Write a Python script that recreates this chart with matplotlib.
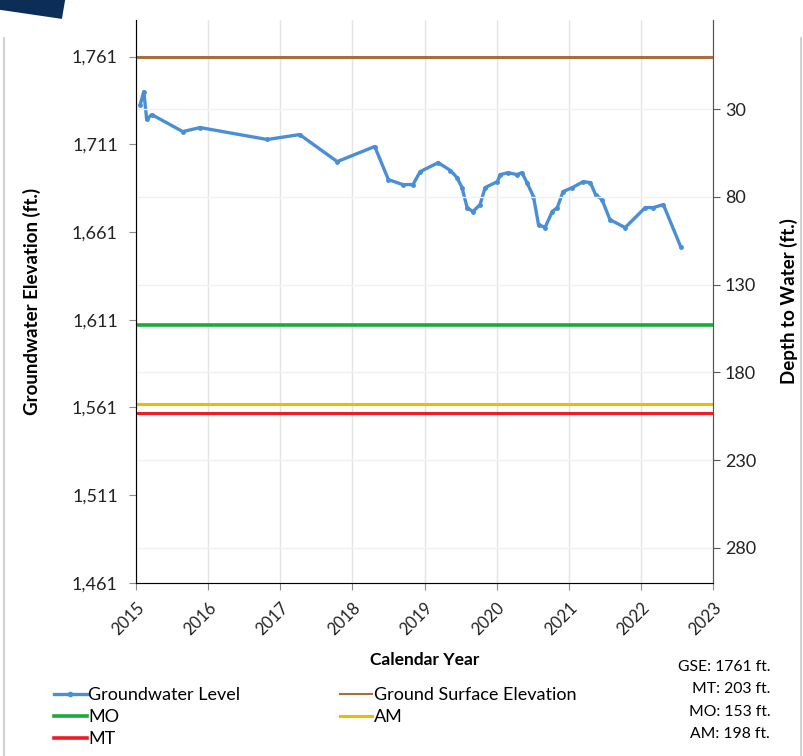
import matplotlib.pyplot as plt
from matplotlib.patches import Polygon
from matplotlib.lines import Line2D

plt.rcParams['font.family'] = ['Lato', 'DejaVu Sans']

# groundwater level readings (decimal year, elevation ft.)
gw_year = [2015.06, 2015.11, 2015.15, 2015.22, 2015.65, 2015.89, 2016.82, 2017.27,
           2017.79, 2018.31, 2018.50, 2018.70, 2018.84, 2018.94, 2019.19, 2019.36,
           2019.45, 2019.52, 2019.59, 2019.67, 2019.77, 2019.84, 2020.01, 2020.05,
           2020.16, 2020.28, 2020.35, 2020.42, 2020.51, 2020.58, 2020.67, 2020.77,
           2020.84, 2020.92, 2021.05, 2021.20, 2021.30, 2021.37, 2021.46, 2021.57,
           2021.78, 2022.06, 2022.17, 2022.31, 2022.55]
gw_elev = [1733.6, 1741.0, 1725.1, 1727.9, 1718.2, 1720.5, 1713.7, 1716.5,
           1701.1, 1709.7, 1690.8, 1688.0, 1688.0, 1695.4, 1700.5, 1696.0,
           1692.0, 1686.3, 1674.9, 1672.6, 1676.6, 1686.3, 1689.7, 1693.7,
           1694.8, 1693.7, 1694.8, 1689.1, 1681.1, 1665.2, 1663.5, 1672.6,
           1674.9, 1684.0, 1686.3, 1689.7, 1689.1, 1682.3, 1679.4, 1668.0,
           1663.5, 1674.9, 1674.9, 1676.6, 1652.6]

gse = 1761
mt_depth = 203
mo_depth = 153
am_depth = 198

years = list(range(2015, 2024))
elev_ticks = [1461, 1511, 1561, 1611, 1661, 1711, 1761]
depth_ticks = [30, 80, 130, 180, 230, 280]

fig = plt.figure(figsize=(8.04, 7.56), dpi=100)
ax = fig.add_axes([0.169, 0.229, 0.718, 0.745])

ax.set_xlim(2015, 2023)
ax.set_ylim(1461, 1782)
ax.set_xticks(years)
ax.set_xticklabels([str(y) for y in years], rotation=45, ha='right',
                   rotation_mode='anchor', fontsize=12)
ax.set_yticks(elev_ticks)
ax.set_yticklabels([f'{v:,}' for v in elev_ticks], fontsize=13)
ax.grid(axis='x', color='#e4e4e4', lw=1)

ax.axhline(gse, color='#a86f3c', lw=2.2)
ax.axhline(gse - mo_depth, color='#1aaa3a', lw=2.6)
ax.axhline(gse - am_depth, color='#f5b800', lw=2.2)
ax.axhline(gse - mt_depth, color='#ee1c24', lw=2.2)
ax.plot(gw_year, gw_elev, color='#4a8fd6', lw=2.4, marker='o', ms=2.5)

ax.spines['top'].set_visible(False)
for s in ['left', 'right', 'bottom']:
    ax.spines[s].set_color('#8c8c8c')
ax.tick_params(colors='#8c8c8c', labelcolor='#222222', length=5)
ax.tick_params(axis='y', pad=8)
ax.tick_params(axis='x', pad=7)

ax.set_ylabel('Groundwater Elevation (ft.)', fontsize=13.5, fontweight='bold', labelpad=22)
ax.set_xlabel('Calendar Year', fontsize=12.5, fontweight='bold', labelpad=10)

ax2 = ax.twinx()
ax2.set_ylim(gse - 1461, gse - 1782)
ax2.set_yticks(depth_ticks)
ax2.set_yticklabels([str(v) for v in depth_ticks], fontsize=13)
ax2.grid(axis='y', color='#f0f0f0', lw=1)
ax2.spines['top'].set_visible(False)
ax2.spines['right'].set_color('#555555')
ax2.tick_params(colors='#555555', labelcolor='#222222', length=5)
ax2.set_ylabel('Depth to Water (ft.)', fontsize=13.5, fontweight='bold', labelpad=17)

handles = [
    Line2D([], [], color='#4a8fd6', lw=2.4, marker='o', ms=3),
    Line2D([], [], color='#1aaa3a', lw=2.6),
    Line2D([], [], color='#ee1c24', lw=2.6),
    Line2D([], [], color='#a86f3c', lw=1.5),
    Line2D([], [], color='#f5b800', lw=2.2),
]
labels = ['Groundwater Level', 'MO', 'MT', 'Ground Surface Elevation', 'AM']
fig.legend(handles, labels, loc='upper left', bbox_to_anchor=(0.056, 0.103), ncol=2,
           frameon=False, fontsize=13, handlelength=1.8, handletextpad=0.1,
           columnspacing=5.5, labelspacing=0.33, borderpad=0)

notes = [f'GSE: {gse} ft.', f'MT: {mt_depth} ft.', f'MO: {mo_depth} ft.', f'AM: {am_depth} ft.']
for i, t in enumerate(notes):
    fig.text(0.958, 0.118 - i * 0.0298, t, ha='right', va='center', fontsize=11.3)

# page furniture: corner banner and side rules
fig.patches.append(Polygon([[0, 1], [0.081, 1], [0.077, 0.975], [0, 0.987]],
                           closed=True, transform=fig.transFigure,
                           facecolor='#0c2d57', edgecolor='none'))
fig.add_artist(Line2D([0.005, 0.005], [0, 0.95], color='#c8c8c8', lw=1.2,
                      transform=fig.transFigure))
fig.add_artist(Line2D([0.996, 0.996], [0, 0.95], color='#c8c8c8', lw=1.2,
                      transform=fig.transFigure))

fig.savefig('out.png', dpi=100)
